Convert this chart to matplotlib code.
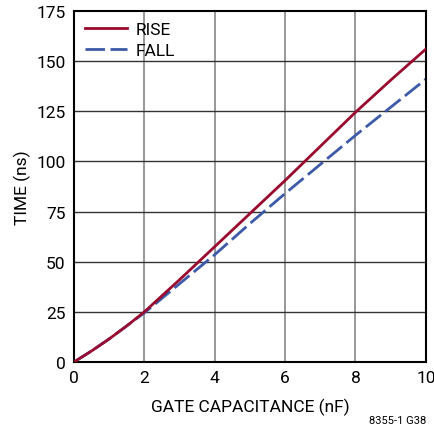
import numpy as np
import matplotlib.pyplot as plt

plt.rcParams['font.family'] = ['Roboto', 'DejaVu Sans']

# gate capacitance (nF) vs time (ns)
cap = [0, 0.5, 1.0, 1.5, 2.0, 3.0, 4.0, 5.0, 6.0, 7.0, 8.0, 9.0, 10.0]
rise = [0, 5.5, 11.5, 18, 25, 41, 57.5, 74, 90.5, 107.5, 124.5, 140.5, 156]
fall = [0, 5.5, 11.5, 18, 24.5, 39, 53.5, 69, 84, 98.5, 113, 127, 141]

fig = plt.figure(figsize=(4.35, 4.35), dpi=100)
ax = fig.add_axes([0.170, 0.1655, 0.809, 0.807])

ax.plot(cap, rise, color='#9a0a2e', lw=2.0, label='RISE', zorder=3)
ax.plot(cap, fall, color='#3c5aa8', lw=2.0, dashes=(7, 2), label='FALL', zorder=2)

ax.set_xlim(0, 10)
ax.set_ylim(0, 175)
ax.set_xticks(np.arange(0, 11, 2))
ax.set_yticks(np.arange(0, 176, 25))
for x in range(2, 10, 2):
    ax.axvline(x, color='#909090', lw=1.3, zorder=1)
for y in range(25, 175, 25):
    ax.axhline(y, color='#333333', lw=1.0, zorder=1)

for s in ax.spines.values():
    s.set_linewidth(1.5)
ax.tick_params(length=0, labelsize=12.5, pad=6)
ax.set_xlabel('GATE CAPACITANCE (nF)', fontsize=12.5, labelpad=9)
ax.set_ylabel('TIME (ns)', fontsize=12.5, labelpad=4)

leg = ax.legend(loc='upper left', frameon=False, fontsize=12.5, handlelength=2.4,
                borderaxespad=0.25, labelspacing=0.3, handletextpad=0.5,
                borderpad=0.4)

fig.text(0.979, 0.02, '8355-1 G38', fontsize=8, ha='right', va='bottom')

fig.savefig('out.png', dpi=100)
